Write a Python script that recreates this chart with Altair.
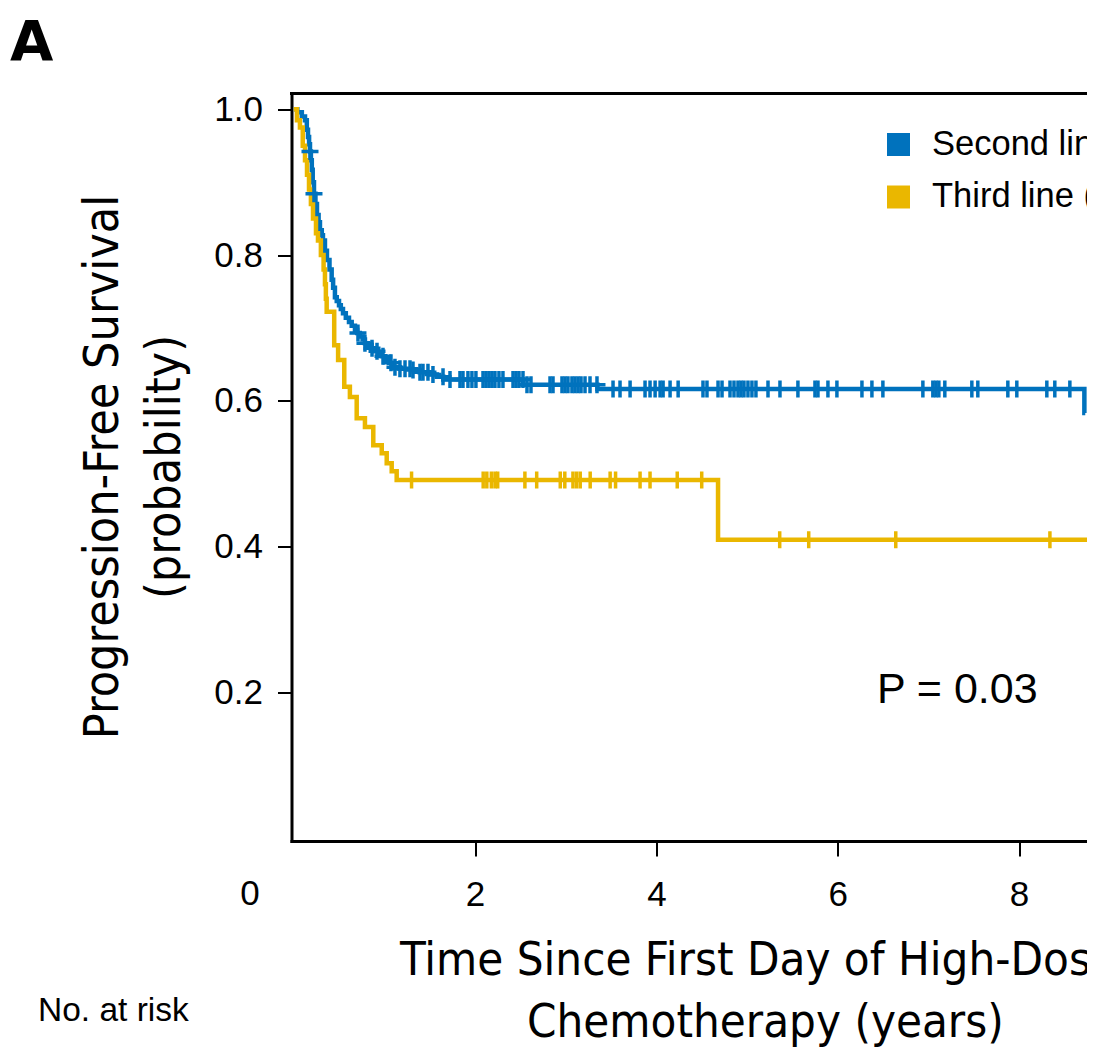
import bisect
import altair as alt
import pandas as pd

# ---- data -----------------------------------------------------------------
groups = ["Second line", "Third line"]
colors = ["#0072BD", "#EAB700"]

# Kaplan-Meier steps: time (years) and survival level starting at that time
second_t = [0, 0.04, 0.09, 0.125, 0.145, 0.158, 0.17, 0.18, 0.19, 0.20, 0.21,
            0.224, 0.24, 0.257, 0.275, 0.29, 0.31, 0.323, 0.345, 0.367, 0.395,
            0.419, 0.435, 0.455, 0.475, 0.50, 0.52, 0.544, 0.575, 0.61, 0.64,
            0.676, 0.70, 0.73, 0.76, 0.786, 0.82, 0.86, 0.895, 0.93, 0.97,
            1.01, 1.05, 1.084, 1.17, 1.30, 1.39, 1.50, 1.58, 1.65, 2.53, 3.35,
            8.72, 8.73]
second_s = [1.0, 0.996, 0.99, 0.985, 0.972, 0.962, 0.952, 0.942, 0.93, 0.917,
            0.90, 0.884, 0.87, 0.855, 0.845, 0.834, 0.827, 0.82, 0.806, 0.793,
            0.78, 0.766, 0.755, 0.742, 0.737, 0.731, 0.726, 0.72, 0.714, 0.708,
            0.703, 0.697, 0.693, 0.688, 0.684, 0.679, 0.676, 0.672, 0.668,
            0.665, 0.661, 0.656, 0.652, 0.646, 0.644, 0.642, 0.639, 0.636,
            0.633, 0.629, 0.622, 0.616, 0.583, 0.583]

third_t = [0, 0.036, 0.069, 0.10, 0.125, 0.147, 0.169, 0.19, 0.213, 0.246,
           0.268, 0.30, 0.33, 0.345, 0.355, 0.364, 0.447, 0.49, 0.558, 0.62,
           0.695, 0.786, 0.878, 0.971, 1.026, 1.081, 1.136, 4.68, 8.75]
third_s = [1.0, 0.985, 0.975, 0.95, 0.93, 0.91, 0.89, 0.87, 0.85, 0.83, 0.82,
           0.80, 0.78, 0.76, 0.74, 0.722, 0.676, 0.656, 0.619, 0.605, 0.576,
           0.564, 0.539, 0.528, 0.514, 0.503, 0.491, 0.409, 0.409]

# censored observations (years)
second_censor_t = [0.18, 0.224, 0.709, 0.786, 0.864, 0.919, 0.985, 1.073,
                   1.117, 1.172, 1.228, 1.283, 1.316, 1.393, 1.426, 1.481,
                   1.536, 1.647, 1.724, 1.834, 1.867, 1.922, 1.966, 2.010,
                   2.088, 2.121, 2.154, 2.187, 2.220, 2.264, 2.308, 2.419,
                   2.452, 2.485, 2.529, 2.573, 2.617, 2.827, 2.860, 2.959,
                   2.992, 3.025, 3.069, 3.102, 3.136, 3.169, 3.213, 3.268,
                   3.345, 3.522, 3.599, 3.710, 3.875, 3.930, 3.986, 4.041,
                   4.074, 4.151, 4.240, 4.514, 4.558, 4.680, 4.724, 4.812,
                   4.856, 4.900, 4.933, 4.966, 5.010, 5.054, 5.098, 5.231,
                   5.363, 5.561, 5.749, 5.782, 5.892, 5.991, 6.267, 6.377,
                   6.498, 6.939, 7.049, 7.082, 7.115, 7.181, 7.479, 7.545,
                   7.876, 7.975, 8.306, 8.394, 8.560]
third_censor_t = [1.30, 2.09, 2.13, 2.18, 2.22, 2.25, 2.55, 2.68, 2.94, 2.99,
                  3.08, 3.12, 3.16, 3.27, 3.49, 3.55, 3.82, 3.93, 4.23, 4.50,
                  5.36, 5.68, 6.64, 8.34]

y_ticks = [0.2, 0.4, 0.6, 0.8, 1.0]
x_ticks = [2, 4, 6, 8]

x_title = ["Time Since First Day of High-Dose", "Chemotherapy (years)"]
y_title = ["Progression-Free Survival", "(probability)"]
legend_labels = ["Second line", "Third line ("]
p_text = "P = 0.03"
panel_letter = "A"
risk_text = "No. at risk"


def step_at(ts, ss, t):
    i = bisect.bisect_right(ts, t) - 1
    return ss[max(i, 0)]


curves = pd.DataFrame({
    "t": second_t + third_t,
    "s": second_s + third_s,
    "g": [groups[0]] * len(second_t) + [groups[1]] * len(third_t),
})
cens = pd.DataFrame({
    "t": second_censor_t + third_censor_t,
    "s": [step_at(second_t, second_s, t) for t in second_censor_t]
    + [step_at(third_t, third_s, t) for t in third_censor_t],
    "g": [groups[0]] * len(second_censor_t) + [groups[1]] * len(third_censor_t),
})

# ---- layout ---------------------------------------------------------------
LEFT, TOP = 291.5, 93.5
W, H = 795.5, 747.5
BOTTOM = 1049 - TOP - H

SANS = "Liberation Sans"
NARROW = "'Liberation Sans Narrow', 'DejaVu Sans Condensed', 'Liberation Sans', sans-serif"

xs = alt.Scale(domain=[-0.024, 8.749], nice=False, zero=False)
ys = alt.Scale(domain=[-0.0044, 1.0217], nice=False, zero=False)
col = alt.Scale(domain=groups, range=colors)

lines = alt.Chart(curves).mark_line(
    interpolate="step-after", strokeWidth=4.5, clip=True
).encode(
    x=alt.X("t:Q", scale=xs,
            axis=alt.Axis(values=x_ticks, format="d", title=None, tickSize=15,
                          labelBaseline="alphabetic", labelPadding=49,
                          labelAlign="center")),
    y=alt.Y("s:Q", scale=ys,
            axis=alt.Axis(values=y_ticks, format=".1f", title=None,
                          tickSize=14, labelPadding=15)),
    color=alt.Color("g:N", scale=col, legend=None),
    detail="g:N",
)

censor = alt.Chart(cens).mark_point(
    shape="M-1,0L1,0M0,-1L0,1", size=289, strokeWidth=3.5, filled=False,
    opacity=1, clip=True
).encode(
    x=alt.X("t:Q", scale=xs),
    y=alt.Y("s:Q", scale=ys),
    color=alt.Color("g:N", scale=col, legend=None),
)

top_frame = alt.Chart(pd.DataFrame({"k": [0]})).mark_rule(
    strokeWidth=3, color="black", strokeCap="square"
).encode(x=alt.value(0), x2=alt.value(W), y=alt.value(0))


def label(text, x, y, size, font=SANS, weight="normal", align="left", angle=None):
    kw = dict(align=align, baseline="alphabetic", fontSize=size, font=font,
              fontWeight=weight, color="black")
    if angle is not None:
        kw["angle"] = angle
    return alt.Chart(pd.DataFrame({"text": [text]})).mark_text(**kw).encode(
        x=alt.value(x), y=alt.value(y), text="text:N")


def swatch(color, x, y):
    return alt.Chart(pd.DataFrame({"k": [0]})).mark_square(
        size=529, opacity=1, color=color
    ).encode(x=alt.value(x), y=alt.value(y))


layers = [
    lines,
    censor,
    top_frame,
    swatch(colors[0], 607, 51),
    swatch(colors[1], 607, 103.5),
    label(legend_labels[0], 640.5, 61.5, 34.5),
    label(legend_labels[1], 640.5, 113.5, 34.5),
    label(p_text, 585.5, 609.5, 43),
    label(panel_letter, -281.5, -33.5, 56, font="DejaVu Sans", weight="bold"),
    label(y_title[0], -174, 373.5, 48, font=NARROW, align="center", angle=270),
    label(y_title[1], -112, 373.5, 48, font=NARROW, align="center", angle=270),
    label(x_title[0], 108.5, 881.5, 47, font=NARROW),
    label(x_title[1], 235.5, 943.5, 47, font=NARROW),
    label(risk_text, -253.5, 927.5, 33.5),
    label("0", -41.5, 811.5, 35, align="center"),
]

chart = alt.layer(*layers).properties(
    width=W,
    height=H,
    autosize=alt.AutoSizeParams(type="none"),
    padding={"left": LEFT, "top": TOP, "right": 0, "bottom": BOTTOM},
).configure_view(stroke=None).configure_axis(
    grid=False,
    domainColor="black",
    domainWidth=3,
    domainCap="square",
    tickColor="black",
    tickWidth=2,
    labelColor="black",
    labelFont=SANS,
    labelFontSize=35,
)

chart.save("out.html", embed_options={"renderer": "svg", "actions": False})
